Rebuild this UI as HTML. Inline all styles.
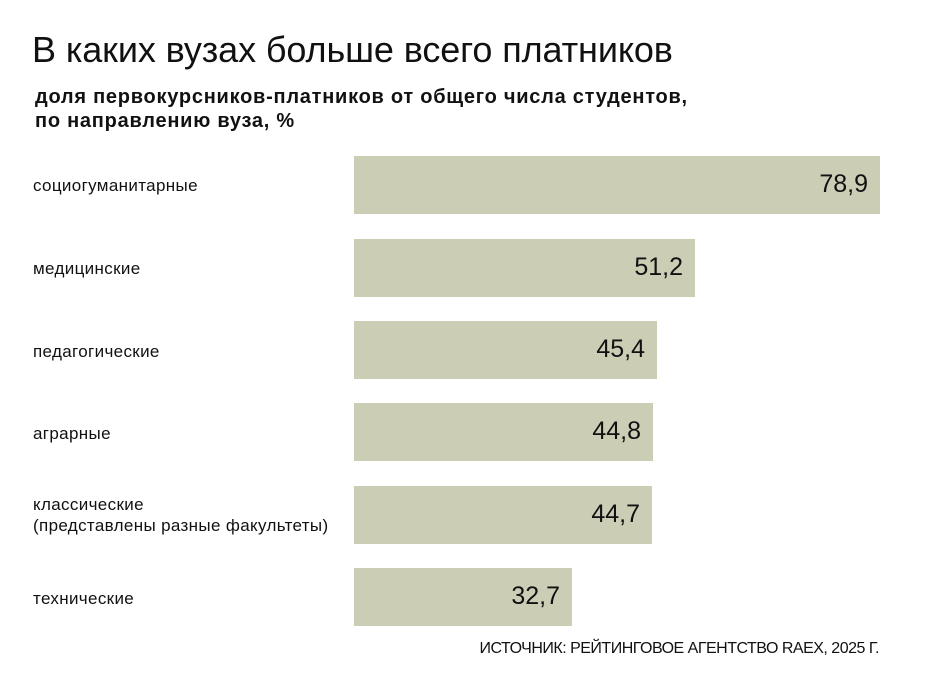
<!DOCTYPE html>
<html><head><meta charset="utf-8"><style>
body{margin:0;width:929px;height:696px;background:#fff;position:relative;font-family:"Liberation Sans",sans-serif;color:#111;overflow:hidden}
.t{position:absolute;left:32px;top:29px;font-size:36px;font-weight:300;letter-spacing:-0.1px;white-space:nowrap}
.s{position:absolute;left:35px;top:85px;font-size:20px;font-weight:bold;line-height:24px;letter-spacing:0.75px;white-space:nowrap}
.l{position:absolute;left:33px;font-size:17px;line-height:21px;letter-spacing:0.35px;white-space:nowrap}
.b{position:absolute;left:354px;height:58px;background:#cccdb5}
.v{position:absolute;right:12px;top:14px;font-size:25px}
.src{position:absolute;right:50px;top:640px;font-size:16px;letter-spacing:-0.5px;white-space:nowrap}
</style></head><body>
<div class="t">В каких вузах больше всего платников</div>
<div class="s">доля первокурсников-платников от общего числа студентов,<br>по направлению вуза, %</div>
<div class="l" style="top:175px">социогуманитарные</div>
<div class="b" style="top:156px;width:526px"><span class="v">78,9</span></div>
<div class="l" style="top:258px">медицинские</div>
<div class="b" style="top:239px;width:341px"><span class="v">51,2</span></div>
<div class="l" style="top:341px">педагогические</div>
<div class="b" style="top:321px;width:303px"><span class="v">45,4</span></div>
<div class="l" style="top:423px">аграрные</div>
<div class="b" style="top:403px;width:299px"><span class="v">44,8</span></div>
<div class="l" style="top:494px">классические<br>(представлены разные факультеты)</div>
<div class="b" style="top:486px;width:298px"><span class="v">44,7</span></div>
<div class="l" style="top:588px">технические</div>
<div class="b" style="top:568px;width:218px"><span class="v">32,7</span></div>
<div class="src">ИСТОЧНИК: РЕЙТИНГОВОЕ АГЕНТСТВО RAEX, 2025 Г.</div>
</body></html>
